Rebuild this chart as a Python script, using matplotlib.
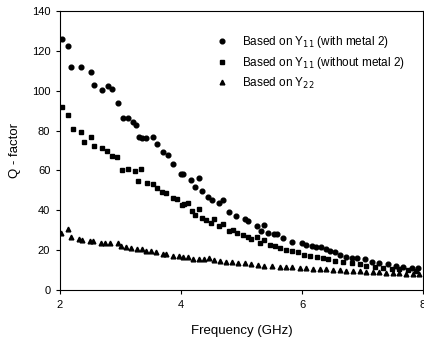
#!/usr/bin/env python3
"""
Q-factor vs frequency: three extraction methods (scatter)
"""

import matplotlib.pyplot as plt

plt.rcParams['font.family'] = ['Liberation Sans', 'DejaVu Sans']
plt.rcParams['font.size'] = 8

# Based on Y11 (with metal 2)
freq_m2 = [2.04, 2.13, 2.18, 2.35, 2.52, 2.57, 2.69, 2.79, 2.86, 2.96, 3.04, 3.13,
           3.21, 3.25, 3.31, 3.36, 3.42, 3.53, 3.61, 3.71, 3.78, 3.87, 4.00, 4.03,
           4.16, 4.23, 4.30, 4.34, 4.45, 4.52, 4.62, 4.69, 4.79, 4.91, 5.05, 5.10,
           5.25, 5.32, 5.37, 5.43, 5.53, 5.58, 5.68, 5.84, 6.00, 6.06, 6.16, 6.23,
           6.32, 6.39, 6.47, 6.54, 6.62, 6.73, 6.82, 6.91, 7.04, 7.16, 7.28, 7.42,
           7.56, 7.67, 7.81, 7.92]
q_m2 = [125.8, 122.4, 112.0, 112.0, 109.5, 102.7, 100.3, 102.5, 100.8, 93.6, 86.1, 86.1,
        84.3, 82.8, 76.9, 76.1, 76.4, 76.9, 73.2, 69.1, 67.6, 63.4, 58.0, 58.4,
        55.0, 51.7, 56.0, 49.8, 46.8, 45.2, 43.8, 45.2, 39.0, 37.1, 35.8, 34.6,
        32.3, 29.6, 32.4, 28.4, 27.9, 28.3, 26.1, 24.2, 23.7, 22.7, 22.1, 21.4,
        21.7, 20.6, 19.4, 18.9, 17.6, 16.4, 15.9, 15.9, 15.4, 14.0, 13.4, 12.9,
        12.2, 11.7, 11.2, 10.9]

# Based on Y11 (without metal 2)
freq_nom2 = [2.04, 2.13, 2.21, 2.34, 2.39, 2.51, 2.56, 2.69, 2.78, 2.86, 2.95, 3.02,
             3.13, 3.24, 3.34, 3.29, 3.44, 3.53, 3.60, 3.69, 3.76, 3.87, 3.94, 4.01,
             4.05, 4.12, 4.19, 4.23, 4.30, 4.35, 4.42, 4.50, 4.55, 4.62, 4.69, 4.80,
             4.86, 4.93, 5.02, 5.10, 5.16, 5.25, 5.31, 5.38, 5.47, 5.56, 5.64, 5.73,
             5.83, 5.94, 6.04, 6.14, 6.24, 6.34, 6.43, 6.54, 6.68, 6.82, 6.96, 7.06,
             7.20, 7.34, 7.48, 7.61, 7.75, 7.89]
q_nom2 = [92.0, 87.6, 80.6, 79.1, 74.4, 76.9, 72.4, 71.1, 69.9, 67.4, 66.6, 60.4,
          60.9, 59.7, 60.5, 54.8, 53.8, 53.2, 51.3, 49.3, 48.8, 46.0, 45.5, 42.6,
          43.0, 43.8, 39.6, 37.6, 40.5, 36.3, 35.1, 33.4, 35.5, 32.3, 32.9, 29.8,
          30.1, 28.8, 27.4, 26.8, 25.4, 26.4, 23.7, 25.1, 22.4, 22.1, 21.2, 20.1,
          19.7, 19.1, 17.6, 17.1, 16.4, 16.1, 15.4, 14.7, 13.9, 13.4, 12.9, 12.0,
          11.7, 11.2, 10.7, 10.4, 10.0, 9.7]

# Based on Y22
freq_y22 = [2.02, 2.13, 2.19, 2.32, 2.37, 2.50, 2.55, 2.67, 2.74, 2.83, 2.96, 3.00,
            3.09, 3.18, 3.27, 3.35, 3.42, 3.50, 3.59, 3.70, 3.76, 3.87, 3.96, 4.04,
            4.12, 4.20, 4.29, 4.38, 4.47, 4.55, 4.64, 4.74, 4.85, 4.94, 5.05, 5.16,
            5.27, 5.38, 5.51, 5.63, 5.74, 5.84, 5.96, 6.07, 6.18, 6.29, 6.40, 6.51,
            6.62, 6.73, 6.84, 6.96, 7.06, 7.17, 7.28, 7.39, 7.50, 7.61, 7.72, 7.83,
            7.94]
q_y22 = [28.4, 30.6, 26.8, 25.4, 25.1, 24.4, 24.4, 23.4, 23.4, 23.4, 23.7, 22.1,
         21.7, 20.9, 20.7, 20.4, 19.7, 19.6, 19.1, 18.2, 18.1, 17.2, 16.9, 16.7,
         16.4, 15.7, 15.6, 15.4, 15.9, 15.2, 14.5, 14.0, 13.9, 13.5, 13.4, 13.2,
         12.5, 12.2, 12.2, 11.7, 11.5, 11.4, 11.0, 10.9, 10.7, 10.5, 10.4, 10.2,
         9.9, 9.7, 9.5, 9.4, 9.2, 9.0, 8.9, 8.7, 8.5, 8.4, 8.2, 8.0,
         7.9]

labels = ['Based on Y$_{11}$ (with metal 2)',
          'Based on Y$_{11}$ (without metal 2)',
          'Based on Y$_{22}$']

fig = plt.figure(figsize=(4.24, 3.45), dpi=100)
ax = fig.add_axes([60/424, 1 - 290/345, 363/424, 279/345])

ax.plot(freq_m2, q_m2, 'o', color='black', markersize=3.4, label=labels[0])
ax.plot(freq_nom2, q_nom2, 's', color='black', markersize=3.1, label=labels[1])
ax.plot(freq_y22, q_y22, '^', color='black', markersize=3.4, label=labels[2])

ax.set_xlim(2, 8)
ax.set_ylim(0, 140)
ax.set_xticks([2, 4, 6, 8])
ax.set_yticks(range(0, 141, 20))
ax.tick_params(direction='out', length=3, width=0.8, pad=4, labelsize=8)
for s in ax.spines.values():
    s.set_linewidth(0.8)

ax.set_xlabel('Frequency (GHz)', fontsize=9.5, labelpad=11)
ax.set_ylabel('Q - factor', fontsize=9.5, labelpad=8)

ax.legend(loc='upper left', bbox_to_anchor=(215/424, 1 - 34/345),
          bbox_transform=fig.transFigure, frameon=False, fontsize=8.5,
          handlelength=1.2, handletextpad=1.1, labelspacing=0.4,
          borderpad=0, borderaxespad=0)

fig.savefig('out.png', dpi=100)
plt.close(fig)
